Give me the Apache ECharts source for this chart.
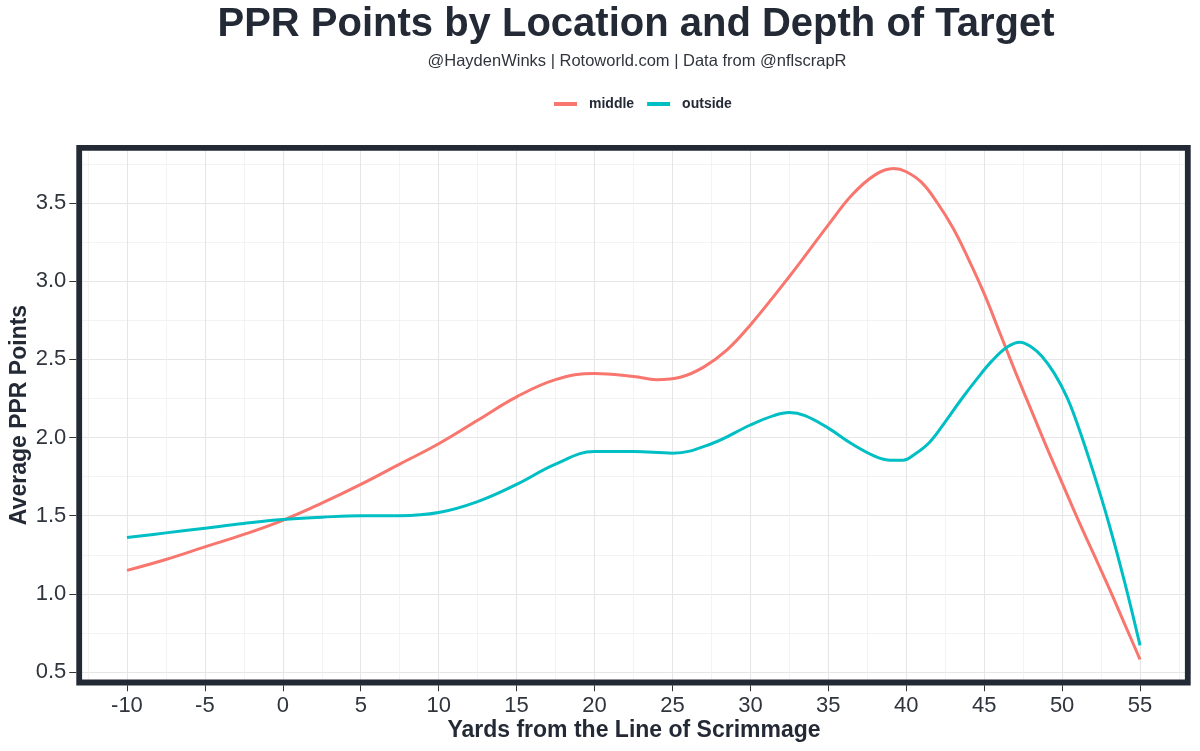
<!DOCTYPE html>
<html>
<head>
<meta charset="utf-8">
<script src="https://cdn.jsdelivr.net/npm/echarts@6/dist/echarts.min.js"></script>
<style>
html,body{margin:0;padding:0;background:#fff;}
#chart{width:1200px;height:751px;}
</style>
</head>
<body>
<div id="chart"></div>
<script>
// ---- data ----
const middleX = [-10,-7.5,-5,-2.5,0,2.5,5,7.5,10,12.5,15,17.5,20,22.5,24,25.5,27,28.5,30,32.5,35,36.5,38,39.2,40,41,42,43,44,45,46,47,48,49,50,51,52,53,54,55];
const middleY = [1.15,1.22,1.30,1.38,1.47,1.58,1.70,1.83,1.96,2.11,2.26,2.37,2.41,2.39,2.37,2.385,2.45,2.56,2.72,3.03,3.36,3.55,3.68,3.72,3.70,3.63,3.50,3.34,3.14,2.92,2.67,2.42,2.18,1.94,1.71,1.48,1.26,1.04,0.81,0.58];
const outsideX = [-10,-7.5,-5,-2.5,0,2.5,5,7.5,10,12.5,15,17.5,20,22.5,25,27.5,30,31.5,32.5,33.5,35,36.5,38,39,39.8,40.5,41.5,42.5,43.5,44.5,45.5,46.5,47.3,48,48.7,49.5,50.3,51,52,53,54,55];
const outsideY = [1.36,1.39,1.42,1.45,1.475,1.49,1.50,1.50,1.52,1.59,1.70,1.83,1.91,1.91,1.90,1.96,2.08,2.14,2.16,2.14,2.06,1.96,1.88,1.855,1.855,1.89,1.97,2.10,2.24,2.37,2.49,2.58,2.61,2.58,2.52,2.41,2.26,2.08,1.78,1.45,1.08,0.67];
const xMajorTicks = [-10,-5,0,5,10,15,20,25,30,35,40,45,50,55];
const xMinorTicks = [-12.5,-7.5,-2.5,2.5,7.5,12.5,17.5,22.5,27.5,32.5,37.5,42.5,47.5,52.5,57.5];
const yMajorTicks = [0.5,1.0,1.5,2.0,2.5,3.0,3.5];
const yMinorTicks = [0.75,1.25,1.75,2.25,2.75,3.25,3.75];
const seriesNames = ['middle','outside'];
const titleText = 'PPR Points by Location and Depth of Target';
const subtitleText = '@HaydenWinks | Rotoworld.com | Data from @nflscrapR';
const xTitle = 'Yards from the Line of Scrimmage';
const yTitle = 'Average PPR Points';

// ---- chart ----
const FONT = "'Liberation Sans', Arial, Helvetica, sans-serif";
const DARK = '#242a35';
const pairs = (xs, ys) => xs.map((x, i) => [x, ys[i]]);
const fmt1 = v => (Math.round(v * 10) / 10).toFixed(1);

const X_MIN = -13.25, X_MAX = 58.25, Y_MIN = 0.415, Y_MAX = 3.871;
const G = {left: 76.3, right: 1190.7, top: 145, bottom: 685.3};

const chart = echarts.init(document.getElementById('chart'), null, {renderer: 'canvas'});
const xAxisBase = {type: 'value', min: X_MIN, max: X_MAX, gridIndex: 0, axisLine: {show: false, onZero: false}};
const yAxisBase = {type: 'value', min: Y_MIN, max: Y_MAX, gridIndex: 0, axisLine: {show: false, onZero: false}};

chart.setOption({
  animation: false,
  backgroundColor: '#ffffff',
  textStyle: {fontFamily: FONT},
  grid: {left: G.left, top: G.top, width: G.right - G.left, height: G.bottom - G.top, containLabel: false},
  legend: {
    data: seriesNames,
    left: 549, top: 92,
    icon: 'rect', itemWidth: 23, itemHeight: 4, itemGap: 13,
    textStyle: {fontFamily: FONT, fontSize: 14, fontWeight: 'bold', color: DARK, padding: [0, 0, 0, 7]}
  },
  xAxis: [
    Object.assign({}, xAxisBase, {
      position: 'bottom',
      axisTick: {show: true, inside: false, length: 6, lineStyle: {color: '#333333', width: 1}, customValues: xMajorTicks},
      axisLabel: {show: true, customValues: xMajorTicks, fontSize: 22, color: '#30343c', fontFamily: FONT, margin: 10},
      splitLine: {show: true, lineStyle: {color: '#e6e6e6', width: 1.1}}
    }),
    Object.assign({}, xAxisBase, {
      position: 'bottom',
      axisTick: {show: false, customValues: xMinorTicks},
      axisLabel: {show: false, customValues: xMinorTicks},
      splitLine: {show: true, lineStyle: {color: '#f0f0f0', width: 0.8}}
    })
  ],
  yAxis: [
    Object.assign({}, yAxisBase, {
      position: 'left',
      axisTick: {show: true, inside: false, length: 7, lineStyle: {color: '#333333', width: 1}, customValues: yMajorTicks},
      axisLabel: {show: true, customValues: yMajorTicks, fontSize: 22, color: '#30343c', fontFamily: FONT, margin: 10, formatter: fmt1},
      splitLine: {show: true, lineStyle: {color: '#e6e6e6', width: 1.1}}
    }),
    Object.assign({}, yAxisBase, {
      position: 'left',
      axisTick: {show: false, customValues: yMinorTicks},
      axisLabel: {show: false, customValues: yMinorTicks},
      splitLine: {show: true, lineStyle: {color: '#f0f0f0', width: 0.8}}
    })
  ],
  series: [
    {name: seriesNames[0], type: 'line', xAxisIndex: 0, yAxisIndex: 0, data: pairs(middleX, middleY),
     smooth: 0.4, showSymbol: false, symbol: 'none', color: '#F8766D', lineStyle: {width: 3, color: '#F8766D'}, z: 5},
    {name: seriesNames[1], type: 'line', xAxisIndex: 0, yAxisIndex: 0, data: pairs(outsideX, outsideY),
     smooth: 0.4, showSymbol: false, symbol: 'none', color: '#00BFC4', lineStyle: {width: 3, color: '#00BFC4'}, z: 5}
  ],
  graphic: [
    {type: 'text', x: 636, y: 25, z: 100,
     style: {text: titleText, font: "bold 40px " + FONT, fill: DARK, align: 'center', verticalAlign: 'middle'}},
    {type: 'text', x: 637, y: 61, z: 100,
     style: {text: subtitleText, font: "16.5px " + FONT, fill: '#30343c', align: 'center', verticalAlign: 'middle'}},
    {type: 'text', x: 634, y: 731, z: 100,
     style: {text: xTitle, font: "bold 23px " + FONT, fill: DARK, align: 'center', verticalAlign: 'middle'}},
    {type: 'text', x: 20, y: 415, rotation: Math.PI / 2, z: 100,
     style: {text: yTitle, font: "bold 23px " + FONT, fill: DARK, align: 'center', verticalAlign: 'middle'}},
    {type: 'rect', z: 100, silent: true,
     shape: {x: 79.2, y: 147.9, width: 1108.6, height: 534.6},
     style: {fill: null, stroke: DARK, lineWidth: 5.8}}
  ]
});
</script>
</body>
</html>
